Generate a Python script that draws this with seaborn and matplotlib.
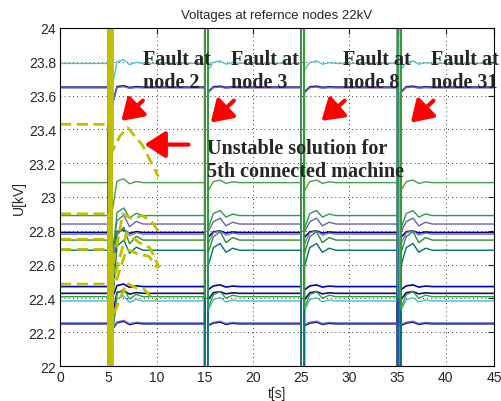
import numpy as np
import pandas as pd
import matplotlib
matplotlib.use('Agg')
import matplotlib.pyplot as plt
import seaborn as sns

# steady voltages at the reference nodes [kV]
levels = [23.79, 23.65, 23.645, 23.085, 22.89, 22.84, 22.79, 22.78,
          22.745, 22.685, 22.47, 22.43, 22.41, 22.385, 22.25, 22.255]
# offset right after clearing, and height of the first swing [kV]
start_off = [-0.04, -0.03, -0.03, -0.05, -0.08, -0.05, -0.03, -0.06,
             -0.08, -0.10, -0.02, -0.04, -0.07, -0.06, -0.01, -0.01]
peak_off = [0.015, 0.005, 0.005, 0.015, 0.03, 0.035, 0.01, 0.02,
            0.05, 0.04, 0.01, 0.01, 0.03, 0.02, 0.01, 0.01]
# where each trace goes during the short circuit (off scale)
spike_u = [20.0, 20.0, 20.0, 26.0, 26.0, 20.0, 20.0, 20.0,
           26.0, 20.0, 20.0, 20.0, 26.0, 26.0, 26.0, 20.0]
colors = ['#48c4c4', '#10108a', '#6a6ac0', '#44a044', '#2a9a55', '#6464b4',
          '#000080', '#7474c8', '#2e8b2e', '#007070', '#0000b0', '#101070',
          '#3c9a3c', '#40c0c0', '#000090', '#7070c0']
draw_order = [1, 2, 6, 7, 5, 10, 11, 14, 15, 0, 13, 9, 3, 4, 8, 12]

fault_t = [5, 15, 25, 35]
clear_dt = 0.32
start_gain = [4.0, 1.0, 1.0, 1.0]
peak_gain = [1.5, 1.0, 1.0, 1.0]
# shape of the swing after clearing (time after fault, fraction of peak)
swing_t = [0.9, 1.6, 2.2, 2.9, 3.6, 4.5]
swing_k = [0.4, 1.0, -0.3, 0.3, 0.0, 0.0]

# 5th connected machine, unstable after the first fault
yel_level = [23.43, 22.90, 22.75, 22.69, 22.485]
yel_down = [4.95, 5.0, 5.05, 5.1, 5.15]
yel_up = [5.4, 5.35, 5.3, 5.25, 5.2]
yel_t = [[5.5, 6.2, 7.0, 8.5, 10.2],
         [5.5, 6.5, 7.5, 8.5, 9.4, 10.3],
         [5.5, 6.9, 8.2, 9.3, 10.3],
         [5.5, 6.9, 8.2, 9.2, 10.1],
         [5.5, 6.9, 8.0, 8.6, 9.6, 10.0]]
yel_u = [[23.28, 23.36, 23.41, 23.31, 23.12],
         [22.60, 22.90, 22.87, 22.89, 22.86, 22.79],
         [22.50, 22.79, 22.73, 22.70, 22.58],
         [22.45, 22.69, 22.66, 22.65, 22.58],
         [22.30, 22.49, 22.46, 22.46, 22.40, 22.39]]

fault_labels = ['Fault at\nnode 2', 'Fault at\nnode 3', 'Fault at\nnode 8', 'Fault at\nnode 31']
label_t = [8.55, 17.7, 29.35, 38.45]
arrow_tail = [(8.58, 23.57), (18.02, 23.57), (29.52, 23.57), (38.72, 23.57), (13.31, 23.31)]
arrow_head = [(6.35, 23.45), (15.62, 23.44), (27.11, 23.45), (36.38, 23.44), (8.75, 23.31)]

sns.set_style('white')
plt.rcParams['font.family'] = ['Liberation Sans', 'DejaVu Sans']

fig = plt.figure(figsize=(5.01, 4.02), dpi=100)
ax = fig.add_axes([0.12, 0.087, 0.866, 0.841])


def trace(i):
    lv = levels[i]
    t = [0.0]
    u = [lv]
    for k, tf in enumerate(fault_t):
        t += [tf, tf, tf + clear_dt, tf + clear_dt]
        u += [lv, spike_u[i], spike_u[i], lv + start_off[i] * start_gain[k]]
        t += [tf + s for s in swing_t]
        u += [lv + peak_off[i] * peak_gain[k] * s for s in swing_k]
    t.append(45)
    u.append(lv)
    return t, u


for i in draw_order:
    t, u = trace(i)
    lw = 1.2 if colors[i] in ('#10108a', '#000080', '#000090', '#0000b0', '#101070') else 1.0
    sns.lineplot(x=t, y=u, color=colors[i], lw=lw, sort=False, estimator=None, ax=ax)

yel = '#bfbf00'
for j in range(len(yel_level)):
    t = [0.0, yel_down[j]] + yel_t[j]
    u = [yel_level[j], yel_level[j]] + yel_u[j]
    sns.lineplot(x=t, y=u, color=yel, lw=2, sort=False,
                 estimator=None, ax=ax).lines[-1].set_dashes((4, 2))
    ft = [yel_down[j], yel_down[j], yel_up[j], yel_up[j]]
    fu = [yel_level[j], 20.0 if j % 2 else 26.0, 20.0 if j % 2 else 26.0, yel_u[j][0]]
    sns.lineplot(x=ft, y=fu, color=yel, lw=2, sort=False, estimator=None, ax=ax)

ax.set_xlim(0, 45)
ax.set_ylim(22, 24)
ax.set_xticks(np.arange(0, 46, 5))
ax.set_yticks(np.round(np.arange(22, 24.01, 0.2), 1))
ax.set_yticklabels(['22', '22.2', '22.4', '22.6', '22.8', '23', '23.2', '23.4', '23.6', '23.8', '24'])
ax.grid(True, color='black', linestyle=(0, (1, 4)), lw=0.6)
ax.tick_params(direction='in', top=True, right=True, length=4, labelsize=10, pad=3)
for s in ax.spines.values():
    s.set_color('black')
    s.set_linewidth(0.8)
ax.set_title('Voltages at refernce nodes 22kV', fontsize=9.5, pad=7)
ax.set_xlabel('t[s]', fontsize=10, labelpad=1)
ax.set_ylabel('U[kV]', fontsize=10, labelpad=2)

bold = dict(family=['Liberation Serif', 'DejaVu Serif'], weight='bold', size=14.5)
for lab, tx in zip(fault_labels, label_t):
    ax.text(tx, 23.649, lab, ha='left', va='baseline', clip_on=False, linespacing=1.2, **bold)
ax.text(15.24, 23.126, 'Unstable solution for\n5th connected machine', ha='left',
        va='baseline', linespacing=1.2, **bold)

for tail, head in zip(arrow_tail, arrow_head):
    ax.annotate('', xy=head, xytext=tail,
                arrowprops=dict(arrowstyle='-|>,head_length=0.7,head_width=0.45', color='red',
                                lw=3, mutation_scale=18, shrinkA=0, shrinkB=0))

fig.savefig('out.png', dpi=100)
